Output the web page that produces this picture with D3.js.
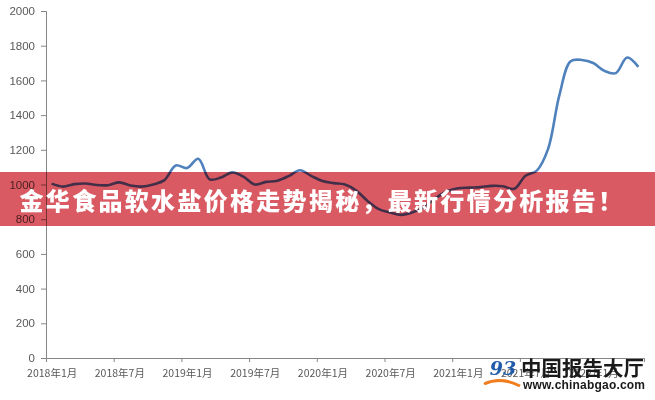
<!DOCTYPE html>
<html>
<head>
<meta charset="utf-8">
<script src="https://cdn.jsdelivr.net/npm/d3@7/dist/d3.min.js"></script>
<style>
  html, body { margin: 0; padding: 0; background: #fff; }
  svg { display: block; }
</style>
</head>
<body>
<svg id="chart" width="655" height="400"></svg>
<script>
// ---- data ----
const startYear = 2018;
const months = d3.range(53).map(i => `${startYear + Math.floor(i / 12)}年${(i % 12) + 1}月`);
const prices = [
  1005, 988, 1002, 1006, 997, 996, 1012, 994, 988, 1000,
  1025, 1110, 1095, 1148, 1030, 1040, 1070, 1045, 1000, 1015,
  1022, 1048, 1082, 1050, 1020, 1008, 1000, 965, 905, 858,
  838, 825, 840, 870, 920, 960, 978, 982, 985, 992,
  990, 975, 1050, 1080, 1205, 1515, 1710, 1718, 1700, 1655,
  1642, 1732, 1678
];
const xTickIndex = [0, 6, 12, 18, 24, 30, 36, 42, 48];
const yTicks = [0, 200, 400, 600, 800, 1000, 1200, 1400, 1600, 1800, 2000];
const titleText = "金华食品软水盐价格走势揭秘，最新行情分析报告！";
const logoName = "中国报告大厅";
const logoUrl = "www.chinabgao.com";

// ---- layout ----
const svg = d3.select("#chart");
const plotL = 46, plotR = 644, plotT = 11, plotB = 358;

const x = d3.scaleLinear().domain([0, months.length]).range([plotL, plotR]);
const y = d3.scaleLinear().domain([0, 2000]).range([plotB, plotT]);
const half = (x(1) - x(0)) / 2;

// y axis
const yAxis = svg.append("g")
  .attr("transform", `translate(${plotL},0)`)
  .call(d3.axisLeft(y).tickValues(yTicks).tickSize(5).tickPadding(6).tickFormat(d3.format("d")));
yAxis.select(".domain").attr("stroke", "#868686");
yAxis.selectAll(".tick line").attr("stroke", "#868686");
yAxis.selectAll("text")
  .attr("fill", "#595959")
  .style("font-family", "'Liberation Sans', Arial, sans-serif")
  .style("font-size", "11.5px");

// x axis
const xAxis = svg.append("g")
  .attr("transform", `translate(0,${plotB})`)
  .call(d3.axisBottom(x).tickValues(xTickIndex).tickSize(4).tickPadding(8)
    .tickFormat(i => months[i]));
xAxis.select(".domain").attr("stroke", "#868686");
xAxis.selectAll(".tick line").attr("stroke", "#868686");
xAxis.selectAll("text")
  .attr("x", half)
  .attr("fill", "#595959")
  .style("font-family", "'Noto Sans CJK SC', sans-serif")
  .style("font-size", "10.5px");

// line
const line = d3.line()
  .x((d, i) => x(i + 0.5))
  .y(d => y(d))
  .curve(d3.curveCatmullRom.alpha(0.5));

svg.append("path")
  .datum(prices)
  .attr("fill", "none")
  .attr("stroke", "#4F81BD")
  .attr("stroke-width", 2.6)
  .attr("stroke-linejoin", "round")
  .attr("d", line);

// banner
svg.append("rect")
  .attr("x", 0).attr("y", 172).attr("width", 655).attr("height", 54)
  .attr("fill", "rgb(217,90,98)")
  .style("mix-blend-mode", "multiply");

svg.append("text")
  .attr("x", 322).attr("y", 210)
  .attr("text-anchor", "middle")
  .attr("fill", "#fff")
  .style("font-family", "'Noto Sans CJK SC', sans-serif")
  .style("font-weight", "900")
  .style("font-size", "24px")
  .style("letter-spacing", "2.3px")
  .text(titleText);

// logo watermark
const logo = svg.append("g");
logo.append("path")
  .attr("d", "M484,384 Q501,376 520,386")
  .attr("fill", "none").attr("stroke", "#F07D1E").attr("stroke-width", 3);
logo.append("text")
  .attr("x", 503).attr("y", 375)
  .attr("text-anchor", "middle")
  .attr("fill", "#1F5BA8")
  .style("font-family", "'DejaVu Serif', serif")
  .style("font-style", "italic")
  .style("font-weight", "bold")
  .style("font-size", "19px")
  .text("93");
logo.append("text")
  .attr("x", 521).attr("y", 376)
  .attr("fill", "#1a1a1a")
  .style("font-family", "'Noto Sans CJK SC', sans-serif")
  .style("font-weight", "700")
  .style("font-size", "20.5px")
  .text(logoName);
logo.append("text")
  .attr("x", 523).attr("y", 389)
  .attr("fill", "#1a1a1a")
  .style("font-family", "'Liberation Sans', Arial, sans-serif")
  .style("font-weight", "700")
  .style("font-size", "12px")
  .attr("textLength", 122)
  .text(logoUrl);
</script>
</body>
</html>
